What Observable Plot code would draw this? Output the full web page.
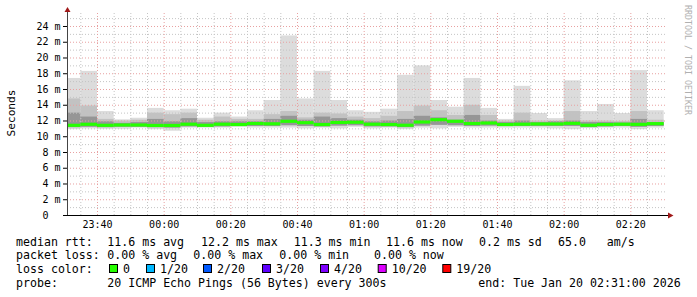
<!DOCTYPE html>
<html><head><meta charset="utf-8">
<script src="https://cdn.jsdelivr.net/npm/d3@7"></script>
<script src="https://cdn.jsdelivr.net/npm/@observablehq/plot@0.6"></script>
<style>body{margin:0;background:#fff} svg{display:block}</style>
</head><body><div id="chart"></div>
<script>
// 5-minute probe slots (start times)
const slotLabels = ["23:30","23:35","23:40","23:45","23:50","23:55","00:00","00:05","00:10","00:15","00:20","00:25","00:30","00:35","00:40","00:45","00:50","00:55","01:00","01:05","01:10","01:15","01:20","01:25","01:30","01:35","01:40","01:45","01:50","01:55","02:00","02:05","02:10","02:15","02:20","02:25"];
// median rtt (ms)
const medianMs = [11.39,11.52,11.39,11.43,11.43,11.37,11.37,11.53,11.39,11.53,11.49,11.62,11.58,11.9,11.72,11.49,11.75,11.78,11.53,11.49,11.4,11.81,12.1,11.9,11.62,11.68,11.49,11.53,11.56,11.56,11.64,11.4,11.49,11.53,11.51,11.6];
// smoke: max ping, upper band, upper dark band, lower dark band, min ping (ms)
const smokeMax = [17.4,18.3,13.2,12.15,12.35,13.6,13.3,13.5,12.35,13.0,12.5,13.3,14.6,22.8,14.8,18.3,14.6,13.3,13.1,13.5,17.8,19.0,14.6,13.75,17.4,13.6,12.2,16.4,12.95,12.3,17.1,13.2,14.1,12.95,18.4,13.3];
const smokeUpper = [14.8,13.9,12.2,12.0,12.1,13.0,12.8,13.0,12.1,12.5,12.2,12.2,12.8,13.2,12.4,13.0,12.9,12.5,12.3,12.6,13.2,13.9,13.3,12.7,14.0,12.7,12.0,13.0,12.0,12.0,13.2,12.0,12.0,11.95,13.2,12.1];
const smokeHi = [13.0,12.5,11.9,11.7,11.8,12.2,11.9,12.3,11.8,11.9,11.9,11.9,12.2,12.6,12.1,12.5,12.3,12.1,11.9,12.0,12.2,12.6,12.4,12.1,12.7,12.0,11.8,12.0,11.8,11.9,12.0,11.8,11.8,11.75,12.2,11.8];
const smokeLo = [11.15,11.2,11.15,11.2,11.2,11.15,11.1,11.25,11.2,11.25,11.3,11.3,11.3,11.4,11.3,11.25,11.35,11.4,11.25,11.25,11.15,11.35,11.45,11.4,11.3,11.35,11.3,11.3,11.3,11.3,11.3,11.15,11.25,11.3,11.2,11.3];
const smokeMin = [10.9,11.0,10.95,10.95,11.1,10.9,10.7,11.1,11.1,11.1,11.2,11.1,11.1,11.1,11.0,11.1,11.0,11.2,11.0,11.1,10.9,11.1,11.0,11.2,11.1,11.1,11.1,11.1,11.1,11.0,10.9,11.1,11.1,11.1,10.9,11.1];

const yTicks = [0,2,4,6,8,10,12,14,16,18,20,22,24];
const yMinor = [1,3,5,7,9,11,13,15,17,19,21,23,25];
const xTickLabels = ["23:40","00:00","00:20","00:40","01:00","01:20","01:40","02:00","02:20"];
const rangeStart = "23:31", rangeEnd = "02:31";
const stepSec = 300;

const lossColors = [["0","#26ff00"],["1/20","#00b8ff"],["2/20","#0059ff"],["3/20","#5e00ff"],["4/20","#7e00ff"],["10/20","#dd00ff"],["19/20","#ff0000"]];

function toDate(hm){ const [h,m]=hm.split(":").map(Number); return new Date(Date.UTC(2026,0,h>=12?19:20,h,m)); }
const rows = slotLabels.map((t,i)=>{
  const a = toDate(t);
  return {x1:a, x2:new Date(+a+stepSec*1000), med:medianMs[i], max:smokeMax[i], up:smokeUpper[i], hi:smokeHi[i], lo:smokeLo[i], min:smokeMin[i]};
});
const minorX = slotLabels.slice(1).map(toDate).filter(d=>!xTickLabels.includes(d3.utcFormat("%H:%M")(d)));
const majorX = xTickLabels.map(toDate);
const dotted = "1,2";

const plot = Plot.plot({
  width: 697, height: 297,
  marginLeft: 67, marginRight: 30, marginTop: 13, marginBottom: 82,
  style: {fontFamily: "DejaVu Sans Mono", fontSize: "10px", background: "#fff", color: "#000"},
  x: {type: "utc", domain: [toDate(rangeStart), toDate(rangeEnd)]},
  y: {domain: [0, 25.65]},
  marks: [
    Plot.rect(rows, {x1:"x1", x2:"x2", y1:"min", y2:"max", fill:"#dcdcdc", clip:true}),
    Plot.rect(rows, {x1:"x1", x2:"x2", y1:"lo", y2:"up", fill:"#c2c2c2", clip:true}),
    Plot.rect(rows, {x1:"x1", x2:"x2", y1:"lo", y2:"hi", fill:"#969696", clip:true}),
    Plot.gridY(yMinor, {stroke:"#c4c4c4", strokeOpacity:1, strokeDasharray:dotted}),
    Plot.gridX(minorX, {stroke:"#c4c4c4", strokeOpacity:1, strokeDasharray:dotted}),
    Plot.gridY(yTicks.filter(d=>d>0), {stroke:"#e8a0a0", strokeOpacity:1, strokeDasharray:dotted}),
    Plot.gridX(majorX, {stroke:"#e8a0a0", strokeOpacity:1, strokeDasharray:dotted}),
    Plot.rect(rows, {x1:"x1", x2:"x2", y1:d=>d.med-0.2, y2:d=>d.med+0.2, fill:lossColors[0][1], clip:true}),
    Plot.axisY({ticks: yTicks, tickFormat: d => d===0 ? "0\u00a0\u00a0" : d+"\u00a0m", tickSize:4, tickPadding:3, label:null, fontSize:10}),
    Plot.axisX({ticks: majorX, tickFormat: d3.utcFormat("%H:%M"), tickSize:0, tickPadding:5, label:null, fontSize:10})
  ]
});
document.getElementById("chart").appendChild(plot);

const svg = d3.select(plot);
const g = svg.append("g").attr("font-family","DejaVu Sans Mono").attr("text-anchor","start");
// axis lines & arrows
g.append("line").attr("x1",67.5).attr("x2",67.5).attr("y1",215).attr("y2",11).attr("stroke","#444");
g.append("line").attr("x1",63).attr("x2",669).attr("y1",215.5).attr("y2",215.5).attr("stroke","#000");
g.append("path").attr("d","M64.5,12 L70.5,12 L67.5,7 Z").attr("fill","#a01818");
g.append("path").attr("d","M668,212.5 L668,218.5 L673.5,215.5 Z").attr("fill","#a01818");
// y label
g.append("text").attr("transform","translate(15,113) rotate(-90)").attr("text-anchor","middle").attr("font-size","11.2px").text("Seconds");
// watermark
g.append("text").attr("transform","translate(684.5,5) rotate(90)").attr("font-size","8.5px").attr("fill","#b0b0b0").attr("textLength",110).attr("lengthAdjust","spacingAndGlyphs").text("RRDTOOL / TOBI OETIKER");
// legend
const fs = "11.6px";
function t(x,y,s){ g.append("text").attr("x",x).attr("y",y).attr("font-size",fs).attr("text-anchor","start").style("white-space","pre").text(s); }
t(16,245.5,"median rtt:"); t(107.3,245.5,"11.6 ms avg"); t(201,245.5,"12.2 ms max"); t(293.7,245.5,"11.3 ms min");
t(386,245.5,"11.6 ms now"); t(479,245.5,"0.2 ms sd"); t(558,245.5,"65.0"); t(606.7,245.5,"am/s");
t(16,259,"packet loss:"); t(107.3,259,"0.00 % avg"); t(193.3,259,"0.00 % max"); t(279.3,259,"0.00 % min"); t(374,259,"0.00 % now");
t(16,273,"loss color:");
const sqX = [109,146,203,262,320,377.7,442.3];
lossColors.forEach(([lab,col],i)=>{
  g.append("rect").attr("x",sqX[i]+0.5).attr("y",264.5).attr("width",8).attr("height",8).attr("fill",col).attr("stroke","#000");
  t(sqX[i]+14,273,lab);
});
t(16,286.5,"probe:"); t(107.3,286.5,"20 ICMP Echo Pings (56 Bytes) every 300s"); t(478.3,286.5,"end: Tue Jan 20 02:31:00 2026");
</script>
</body></html>
